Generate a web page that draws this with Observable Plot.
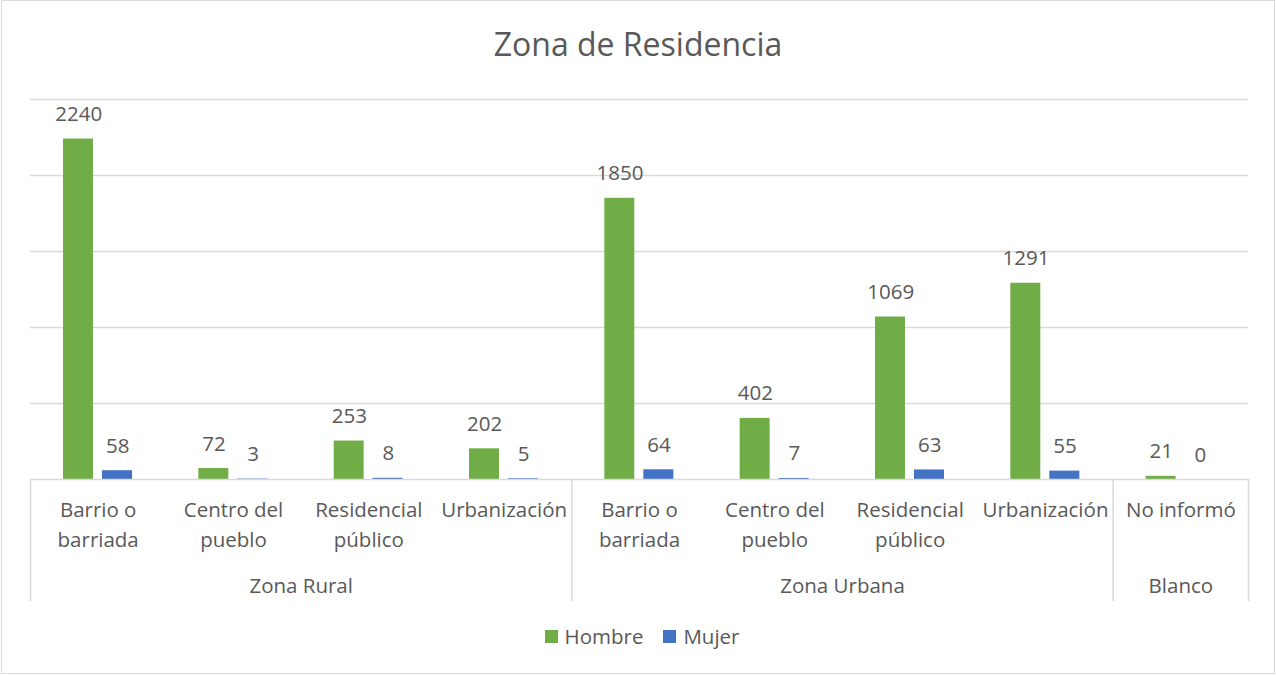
<!DOCTYPE html>
<html><head><meta charset="utf-8">
<script src="https://cdn.jsdelivr.net/npm/d3@7"></script>
<script src="https://cdn.jsdelivr.net/npm/@observablehq/plot@0.6"></script>
<style>
body{margin:0;background:#fff;font-family:"Open Sans",sans-serif;}
#wrap{position:relative;width:1276px;height:676px;overflow:hidden;}
#border{position:absolute;left:1px;top:0px;width:1272px;height:672px;border:1px solid #d9d9d9;pointer-events:none;}
#title{position:absolute;left:0;top:20px;width:1276px;text-align:center;font-size:32px;color:#595959;line-height:48px;}
#chart{position:absolute;left:0;top:0;}
#legend{position:absolute;left:4px;top:621px;width:1276px;display:flex;justify-content:center;align-items:center;font-size:20.5px;color:#595959;line-height:30px;}
#legend .item{display:flex;align-items:center;margin:0 10px;}
#legend .sw{display:inline-block;width:13px;height:13px;margin-right:7px;}
</style></head>
<body>
<div id="wrap">
  <div id="chart"></div>
  <div id="title">Zona de Residencia</div>
  <div id="legend"></div>
  <div id="border"></div>
</div>
<script>
const categories = ["Barrio o\nbarriada", "Centro del\npueblo", "Residencial\npúblico", "Urbanización",
                    "Barrio o\nbarriada", "Centro del\npueblo", "Residencial\npúblico", "Urbanización",
                    "No informó"];
const categoryGroup = ["Zona Rural", "Zona Rural", "Zona Rural", "Zona Rural",
                       "Zona Urbana", "Zona Urbana", "Zona Urbana", "Zona Urbana",
                       "Blanco"];
const hombre = [2240, 72, 253, 202, 1850, 402, 1069, 1291, 21];
const mujer = [58, 3, 8, 5, 64, 7, 63, 55, 0];
const seriesNames = ["Hombre", "Mujer"];
const seriesColors = ["#70AD47", "#4472C4"];
const gridValues = [500, 1000, 1500, 2000, 2500];

const rows = categories.map((label, i) => ({i, label, group: categoryGroup[i], hombre: hombre[i], mujer: mujer[i]}));

// group spans
const groups = [];
categoryGroup.forEach((g, i) => {
  const last = groups[groups.length - 1];
  if (last && last.name === g) last.end = i + 1;
  else groups.push({name: g, start: i, end: i + 1});
});
const separators = [0, ...groups.map(g => g.end)];

const grid = "#d9d9d9";
const textColor = "#595959";
const fs = 20.5;

const chart = Plot.plot({
  width: 1276,
  height: 676,
  marginTop: 99,
  marginBottom: 197,
  marginLeft: 30,
  marginRight: 28,
  style: {fontFamily: "Open Sans", fontSize: fs + "px", color: textColor, background: "transparent"},
  x: {type: "linear", domain: [0, categories.length], axis: null},
  y: {domain: [0, 2500], axis: null},
  marks: [
    Plot.ruleY(gridValues, {stroke: grid, strokeWidth: 1.3}),
    Plot.rectY(rows, {x1: d => d.i, x2: d => d.i + 0.5, y: "hombre", fill: seriesColors[0], insetLeft: 33, insetRight: 4.7}),
    Plot.rectY(rows, {x1: d => d.i + 0.5, x2: d => d.i + 1, y: "mujer", fill: seriesColors[1], insetLeft: 4.3, insetRight: 33.3}),
    Plot.ruleY([0], {stroke: grid, strokeWidth: 1.5}),
    Plot.ruleX(separators, {y1: 0, y2: 0, insetBottom: -122, stroke: grid, strokeWidth: 1.5}),
    Plot.text(rows, {x: d => d.i + 0.5, y: "hombre", text: d => String(d.hombre), dx: -19.5, dy: -18, lineAnchor: "bottom", fontSize: fs, fill: textColor}),
    Plot.text(rows, {x: d => d.i + 0.5, y: "mujer", text: d => String(d.mujer), dx: 19.5, dy: -18, lineAnchor: "bottom", fontSize: fs, fill: textColor}),
    Plot.text(rows, {x: d => d.i + 0.5, text: "label", frameAnchor: "bottom", lineAnchor: "top", dy: 16, lineHeight: 1.46, fontSize: fs, fill: textColor}),
    Plot.text(groups, {x: d => (d.start + d.end) / 2, text: "name", frameAnchor: "bottom", lineAnchor: "top", dy: 99, fontSize: fs, fill: textColor})
  ]
});
document.getElementById("chart").appendChild(chart);

const legend = document.getElementById("legend");
seriesNames.forEach((name, k) => {
  const item = document.createElement("span");
  item.className = "item";
  const sw = document.createElement("span");
  sw.className = "sw";
  sw.style.background = seriesColors[k];
  item.appendChild(sw);
  item.appendChild(document.createTextNode(name));
  legend.appendChild(item);
});
</script>
</body></html>
